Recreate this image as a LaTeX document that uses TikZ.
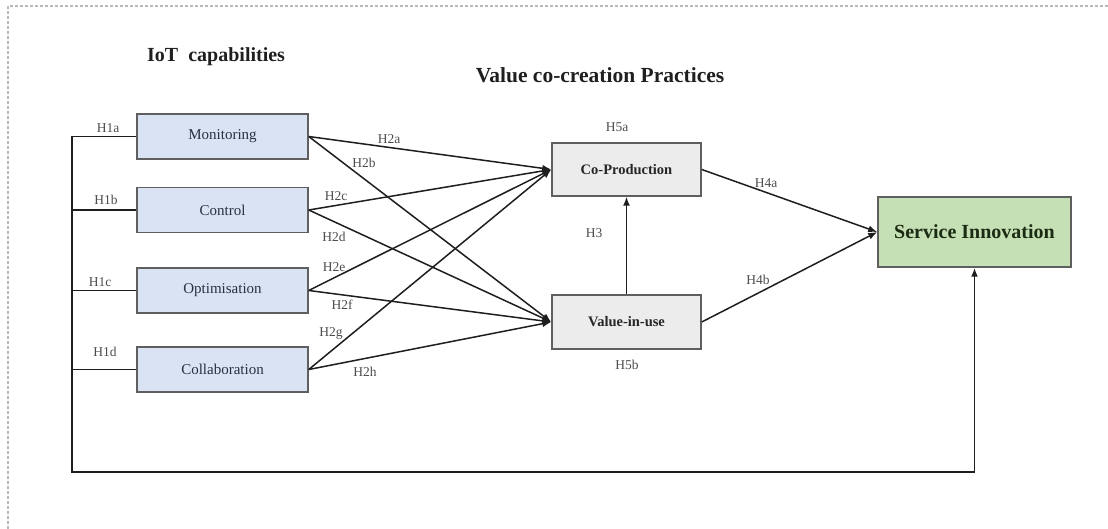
\documentclass[tikz,border=0pt]{standalone}
\usepackage{fontspec}
\setmainfont{Liberation Serif}
\usetikzlibrary{arrows.meta}
\definecolor{capfill}{RGB}{218,227,243}
\definecolor{vcfill}{RGB}{236,236,236}
\definecolor{sifill}{RGB}{197,224,180}
\definecolor{boxline}{RGB}{95,95,95}
\definecolor{wire}{RGB}{30,30,30}
\definecolor{captext}{RGB}{40,48,68}
\definecolor{sitext}{RGB}{28,44,20}
\definecolor{framecol}{RGB}{185,185,185}
\begin{document}
\begin{tikzpicture}[x=1pt,y=-1pt,
  capbox/.style={draw=boxline,line width=1.5pt,fill=capfill,minimum width=171pt,minimum height=45pt,inner sep=0pt,
    font=\fontsize{15}{17}\selectfont,text=captext},
  vcbox/.style={draw=boxline,line width=1.5pt,fill=vcfill,minimum width=149pt,minimum height=53pt,inner sep=0pt,
    font=\fontsize{14.5}{16}\selectfont\bfseries,text=black!85},
  sibox/.style={draw=boxline,line width=1.5pt,fill=sifill,minimum width=193pt,minimum height=70pt,inner sep=0pt,
    font=\fontsize{20}{22}\selectfont\bfseries,text=sitext},
  hyp/.style={font=\fontsize{13.5}{15}\selectfont,text=black!70,inner sep=0pt},
  ttl/.style={font=\fontsize{20}{22}\selectfont\bfseries,text=black!88,inner sep=0pt},
  link/.style={draw=wire,line width=1.5pt},
  arr/.style={link,-{Latex[length=9pt,width=7pt]}}
]
\useasboundingbox (0,0) rectangle (1108,529);
% partial dashed frame along the top and left edges
\draw[framecol,line width=1.2pt,dash pattern=on 3pt off 2pt] (8,529) -- (8,6) -- (1108,6);

% headings
\node[ttl,anchor=west] (t1) at (147,57) {IoT\ \ capabilities};
\node[ttl,font=\fontsize{21.5}{24}\selectfont\bfseries] (t2) at (600,75) {Value co-creation Practices};

% IoT capability constructs
\node[capbox] (mon) at (222.5,136.5) {Monitoring};
\node[capbox] (ctl) at (222.5,210) {Control};
\node[capbox] (opt) at (222.5,290.5) {Optimisation};
\node[capbox] (col) at (222.5,369.5) {Collaboration};

% value co-creation constructs
\node[vcbox] (cop) at (626.5,169.5) {Co-Production};
\node[vcbox,minimum height=54pt] (viu) at (626.5,322) {Value-in-use};

% outcome
\node[sibox] (svc) at (974.5,232) {Service Innovation};

% bus joining the capabilities to the outcome
\coordinate (bt) at (72,136.5);
\coordinate (bb) at (72,472);
\coordinate (br) at (svc.south |- bb);
\draw[link,line width=1.8pt] (mon.west) -- (bt) -- (bb) -- (br);
\draw[arr,line width=1.8pt] (br) -- (svc.south);
\draw[link] (ctl.west) -- (ctl.west -| bt);
\draw[link] (opt.west) -- (opt.west -| bt);
\draw[link] (col.west) -- (col.west -| bt);

% capability -> practice paths
\foreach \s in {mon,ctl,opt,col}{
  \draw[arr] (\s.east) -- (cop.west);
  \draw[arr] (\s.east) -- (viu.west);
}
\draw[arr] (viu.north) -- (cop.south);
\draw[arr] (cop.east) -- (svc.west);
\draw[arr] (viu.east) -- (svc.west);

% hypothesis labels
\node[hyp] (h1a) at (108,128) {H1a};
\node[hyp] (h1b) at (106,200) {H1b};
\node[hyp] (h1c) at (100,282) {H1c};
\node[hyp] (h1d) at (105,352) {H1d};
\node[hyp] (h2a) at (389,139) {H2a};
\node[hyp] (h2b) at (364,163) {H2b};
\node[hyp] (h2c) at (336,196) {H2c};
\node[hyp] (h2d) at (334,237) {H2d};
\node[hyp] (h2e) at (334,267) {H2e};
\node[hyp] (h2f) at (342,305) {H2f};
\node[hyp] (h2g) at (331,333) {H2g};
\node[hyp] (h2h) at (365,372) {H2h};
\node[hyp] (h3) at (594,233) {H3};
\node[hyp] (h4a) at (766,183) {H4a};
\node[hyp] (h4b) at (758,280) {H4b};
\node[hyp] (h5a) at (617,127) {H5a};
\node[hyp] (h5b) at (627,365) {H5b};
\end{tikzpicture}
\end{document}
